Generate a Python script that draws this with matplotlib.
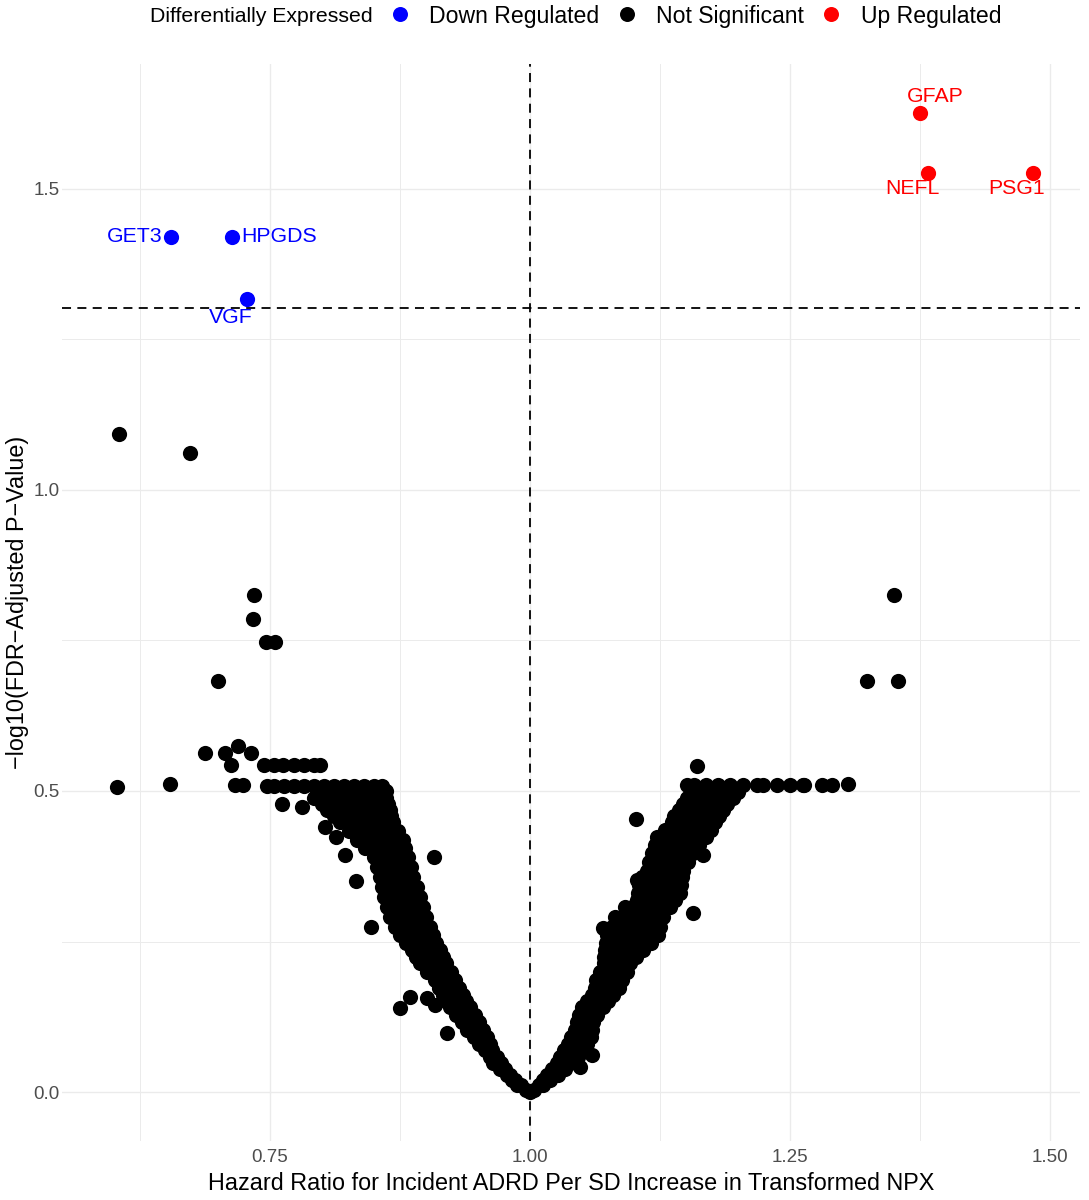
import matplotlib
matplotlib.use("Agg")
import matplotlib.pyplot as plt
from matplotlib.lines import Line2D

plt.rcParams['font.family'] = ['Liberation Sans', 'DejaVu Sans']

# ---------------- data ----------------
# significant proteins
up_genes = ["GFAP", "NEFL", "PSG1"]
up_hr = [1.375, 1.383, 1.484]
up_logp = [1.626, 1.526, 1.526]

down_genes = ["GET3", "HPGDS", "VGF"]
down_hr = [0.655, 0.714, 0.728]
down_logp = [1.420, 1.420, 1.316]

# not-significant isolated points
ns_out_hr = [0.605, 0.673, 0.7346, 0.7337, 0.746, 0.755, 0.700, 0.603, 0.654,
             0.6875, 0.707, 0.719, 0.732, 0.7615, 0.781, 0.803, 0.814,
             0.822, 0.833, 0.908, 0.847, 0.875, 0.885, 0.901, 0.909, 0.920,
             1.350, 1.324, 1.354, 1.306, 1.1606, 1.102, 1.166, 1.157, 1.070,
             1.103, 1.048, 1.060]
ns_out_logp = [1.093, 1.061, 0.826, 0.786, 0.748, 0.748, 0.683, 0.507, 0.512,
               0.563, 0.563, 0.575, 0.563, 0.478, 0.473, 0.440, 0.424,
               0.394, 0.350, 0.390, 0.274, 0.140, 0.158, 0.156, 0.145, 0.098,
               0.826, 0.683, 0.683, 0.512, 0.5415, 0.453, 0.394, 0.297, 0.272,
               0.352, 0.042, 0.061]

# dense left branch: (-log10 p, [hazard ratios])
left_rows = [
    (0.543, [0.7125, 0.744, 0.754, 0.763, 0.773, 0.783, 0.792, 0.798]),
    (0.510, [0.716, 0.724]),
    (0.508, [0.747, 0.754, 0.7635, 0.773, 0.783, 0.792, 0.802, 0.812, 0.821, 0.831, 0.840, 0.850, 0.858]),
    (0.500, [0.798, 0.808, 0.817, 0.827, 0.837, 0.846, 0.856, 0.862]),
    (0.488, [0.792, 0.802, 0.812, 0.821, 0.831, 0.840, 0.850, 0.856, 0.862]),
    (0.478, [0.800, 0.810, 0.820, 0.830, 0.840, 0.850, 0.858, 0.864]),
    (0.468, [0.805, 0.815, 0.825, 0.834, 0.844, 0.853, 0.859, 0.865]),
    (0.458, [0.812, 0.822, 0.832, 0.841, 0.850, 0.858, 0.866]),
    (0.449, [0.817, 0.827, 0.837, 0.846, 0.856, 0.862, 0.868]),
    (0.434, [0.826, 0.836, 0.845, 0.855, 0.864, 0.873]),
    (0.419, [0.834, 0.844, 0.853, 0.8625, 0.870, 0.878]),
    (0.405, [0.841, 0.851, 0.860, 0.870, 0.880]),
    (0.390, [0.850, 0.860, 0.869, 0.876, 0.883]),
    (0.374, [0.853, 0.863, 0.873, 0.880, 0.8856]),
    (0.357, [0.856, 0.866, 0.875, 0.882, 0.8875]),
    (0.341, [0.858, 0.868, 0.878, 0.885, 0.891]),
    (0.324, [0.860, 0.869, 0.879, 0.887, 0.894]),
    (0.307, [0.8625, 0.8725, 0.8825, 0.890, 0.897]),
    (0.291, [0.865, 0.875, 0.885, 0.893, 0.900]),
    (0.274, [0.870, 0.880, 0.890, 0.897, 0.904]),
    (0.261, [0.875, 0.885, 0.894, 0.901, 0.907]),
    (0.2475, [0.881, 0.891, 0.900, 0.9096]),
    (0.236, [0.8865, 0.898, 0.906, 0.9135]),
    (0.224, [0.890, 0.900, 0.908, 0.916]),
    (0.214, [0.894, 0.904, 0.912, 0.919]),
    (0.199, [0.901, 0.912, 0.918, 0.924]),
    (0.186, [0.909, 0.918, 0.928]),
    (0.173, [0.9125, 0.922, 0.932]),
    (0.161, [0.916, 0.926, 0.9356]),
    (0.151, [0.919, 0.929, 0.939]),
    (0.141, [0.923, 0.933, 0.942]),
    (0.128, [0.929, 0.9385, 0.947]),
    (0.116, [0.935, 0.943, 0.951]),
    (0.103, [0.940, 0.948, 0.955]),
    (0.091, [0.946, 0.953, 0.959]),
    (0.080, [0.951, 0.9615]),
    (0.070, [0.957, 0.964]),
    (0.058, [0.9615, 0.968]),
    (0.048, [0.965, 0.972]),
    (0.038, [0.971, 0.976]),
    (0.028, [0.978, 0.981]),
    (0.020, [0.983, 0.9856]),
    (0.012, [0.9875, 0.991]),
    (0.004, [0.996]),
    (0.000, [1.000]),
]

# dense right branch
right_rows = [
    (0.510, [1.151, 1.158, 1.169, 1.181, 1.192, 1.205, 1.218, 1.224, 1.2375, 1.250, 1.2625, 1.264, 1.281, 1.291]),
    (0.498, [1.155, 1.162, 1.168, 1.176, 1.183, 1.191, 1.200]),
    (0.488, [1.151, 1.157, 1.1635, 1.171, 1.178, 1.186, 1.195]),
    (0.478, [1.147, 1.154, 1.1615, 1.169, 1.176, 1.183, 1.190]),
    (0.468, [1.143, 1.150, 1.157, 1.164, 1.171, 1.178, 1.1856]),
    (0.458, [1.139, 1.146, 1.154, 1.161, 1.168, 1.175, 1.182]),
    (0.449, [1.1365, 1.144, 1.151, 1.157, 1.1635, 1.171, 1.178]),
    (0.435, [1.130, 1.137, 1.144, 1.151, 1.159, 1.166, 1.174]),
    (0.424, [1.122, 1.129, 1.1365, 1.144, 1.152, 1.160, 1.169]),
    (0.410, [1.120, 1.127, 1.1346, 1.142, 1.149, 1.156, 1.1625]),
    (0.397, [1.117, 1.123, 1.130, 1.137, 1.144, 1.150, 1.157]),
    (0.382, [1.115, 1.121, 1.128, 1.134, 1.140, 1.146, 1.152]),
    (0.367, [1.1125, 1.119, 1.125, 1.131, 1.1375, 1.147]),
    (0.357, [1.108, 1.115, 1.122, 1.129, 1.1365, 1.146]),
    (0.344, [1.105, 1.112, 1.119, 1.126, 1.134, 1.145]),
    (0.331, [1.104, 1.111, 1.118, 1.125, 1.1327, 1.144]),
    (0.319, [1.103, 1.110, 1.117, 1.124, 1.132, 1.140]),
    (0.307, [1.091, 1.098, 1.106, 1.113, 1.120, 1.127, 1.1346]),
    (0.291, [1.082, 1.089, 1.096, 1.104, 1.113, 1.120, 1.128]),
    (0.274, [1.079, 1.085, 1.092, 1.101, 1.1106, 1.118, 1.125]),
    (0.261, [1.074, 1.080, 1.0865, 1.094, 1.101, 1.112, 1.123]),
    (0.2475, [1.073, 1.079, 1.0856, 1.093, 1.101, 1.108, 1.116]),
    (0.236, [1.072, 1.078, 1.085, 1.091, 1.097, 1.103, 1.109]),
    (0.224, [1.071, 1.077, 1.084, 1.093, 1.102]),
    (0.214, [1.071, 1.077, 1.084, 1.090, 1.096]),
    (0.199, [1.067, 1.074, 1.081, 1.087, 1.093]),
    (0.186, [1.064, 1.070, 1.077, 1.083, 1.089]),
    (0.173, [1.0625, 1.067, 1.072, 1.079, 1.0856]),
    (0.161, [1.060, 1.064, 1.069, 1.075, 1.080]),
    (0.151, [1.055, 1.062, 1.068, 1.075]),
    (0.141, [1.050, 1.055, 1.060, 1.065, 1.070]),
    (0.128, [1.047, 1.052, 1.057, 1.065]),
    (0.116, [1.045, 1.050, 1.054, 1.0606]),
    (0.103, [1.043, 1.048, 1.053, 1.060]),
    (0.091, [1.040, 1.045, 1.050, 1.0587]),
    (0.080, [1.0365, 1.041, 1.046, 1.055]),
    (0.070, [1.033, 1.038, 1.042, 1.051]),
    (0.058, [1.029, 1.034, 1.038, 1.046]),
    (0.048, [1.026, 1.032, 1.039]),
    (0.038, [1.021, 1.027, 1.034]),
    (0.028, [1.016, 1.021, 1.027]),
    (0.020, [1.0125, 1.019]),
    (0.012, [1.0087, 1.0125]),
    (0.004, [1.004]),
]

x_ticks = [0.75, 1.00, 1.25, 1.50]
x_tick_labels = ["0.75", "1.00", "1.25", "1.50"]
y_ticks = [0.0, 0.5, 1.0, 1.5]
y_tick_labels = ["0.0", "0.5", "1.0", "1.5"]
x_minor = [0.625, 0.875, 1.125, 1.375]
y_minor = [0.25, 0.75, 1.25]
hr_threshold = 1.0
p_threshold = 1.30103

# ---------------- assemble ----------------
ns_hr = list(ns_out_hr)
ns_logp = list(ns_out_logp)
for yv, xs in left_rows + right_rows:
    ns_hr.extend(xs)
    ns_logp.extend([yv] * len(xs))

# ---------------- plotting ----------------
fig = plt.figure(figsize=(10.89, 12), dpi=100)
ax = fig.add_axes([0.0569, 0.0492, 0.9348, 0.8975])

ax.set_xlim(0.55, 1.529)
ax.set_ylim(-0.081, 1.707)
for s in ax.spines.values():
    s.set_visible(False)

ax.set_xticks(x_ticks)
ax.set_xticklabels(x_tick_labels)
ax.set_yticks(y_ticks)
ax.set_yticklabels(y_tick_labels)
ax.set_xticks(x_minor, minor=True)
ax.set_yticks(y_minor, minor=True)
ax.tick_params(which='both', length=0)
ax.tick_params(axis='x', pad=6, labelsize=13.5, labelcolor='#4D4D4D')
ax.tick_params(axis='y', pad=1.5, labelsize=13.5, labelcolor='#4D4D4D')
ax.grid(which='major', color='#EBEBEB', linewidth=1.0)
ax.grid(which='minor', color='#EBEBEB', linewidth=0.7)
ax.set_axisbelow(True)

ms = 120
ax.scatter(ns_hr, ns_logp, s=ms, color='black', linewidths=0, zorder=3)
ax.scatter(down_hr, down_logp, s=ms, color='#0000FF', linewidths=0, zorder=4)
ax.scatter(up_hr, up_logp, s=ms, color='#FF0000', linewidths=0, zorder=4)

ax.axvline(hr_threshold, color='black', linewidth=1.3, dashes=(5, 3.5), zorder=2)
ax.axhline(p_threshold, color='black', linewidth=1.3, dashes=(5, 3.5), zorder=2)

# labels (repel-like offsets, in points)
up_offsets = [(11, 11.5, 'center', 'center'), (-11.5, -11.5, 'center', 'center'),
              (-12, -11.5, 'center', 'center')]
down_offsets = [(-6, 0, 'right', 'center'), (6.5, 0, 'left', 'center'),
                (-11.5, -13, 'center', 'center')]
for g, xv, yv, (dx, dy, ha, va) in zip(up_genes, up_hr, up_logp, up_offsets):
    ax.annotate(g, (xv, yv), xytext=(dx, dy), textcoords='offset points',
                ha=ha, va=va, fontsize=15.3, color='#FF0000', zorder=5)
for g, xv, yv, (dx, dy, ha, va) in zip(down_genes, down_hr, down_logp, down_offsets):
    ax.annotate(g, (xv, yv), xytext=(dx, dy), textcoords='offset points',
                ha=ha, va=va, fontsize=15.3, color='#0000FF', zorder=5)

ax.set_xlabel("Hazard Ratio for Incident ADRD Per SD Increase in Transformed NPX",
              fontsize=16.8, labelpad=4)
ax.set_ylabel("\u2212log10(FDR\u2212Adjusted P\u2212Value)", fontsize=16.8, labelpad=3)

# legend on top
fig.text(150 / 1089, 1 - 16 / 1200, "Differentially Expressed", fontsize=15.3,
         ha='left', va='center')
handles = [Line2D([], [], linestyle='none', marker='o', markersize=10.8,
                  markeredgewidth=0, color=c) for c in ['#0000FF', 'black', '#FF0000']]
fig.legend(handles, ["Down Regulated", "Not Significant", "Up Regulated"],
           loc='center left', bbox_to_anchor=(388.5 / 1089, 1 - 16 / 1200),
           ncol=3, frameon=False, fontsize=16.6, handlelength=1.0,
           handletextpad=0.76, columnspacing=0.7, borderpad=0, borderaxespad=0)

fig.savefig("out.png", dpi=100)
